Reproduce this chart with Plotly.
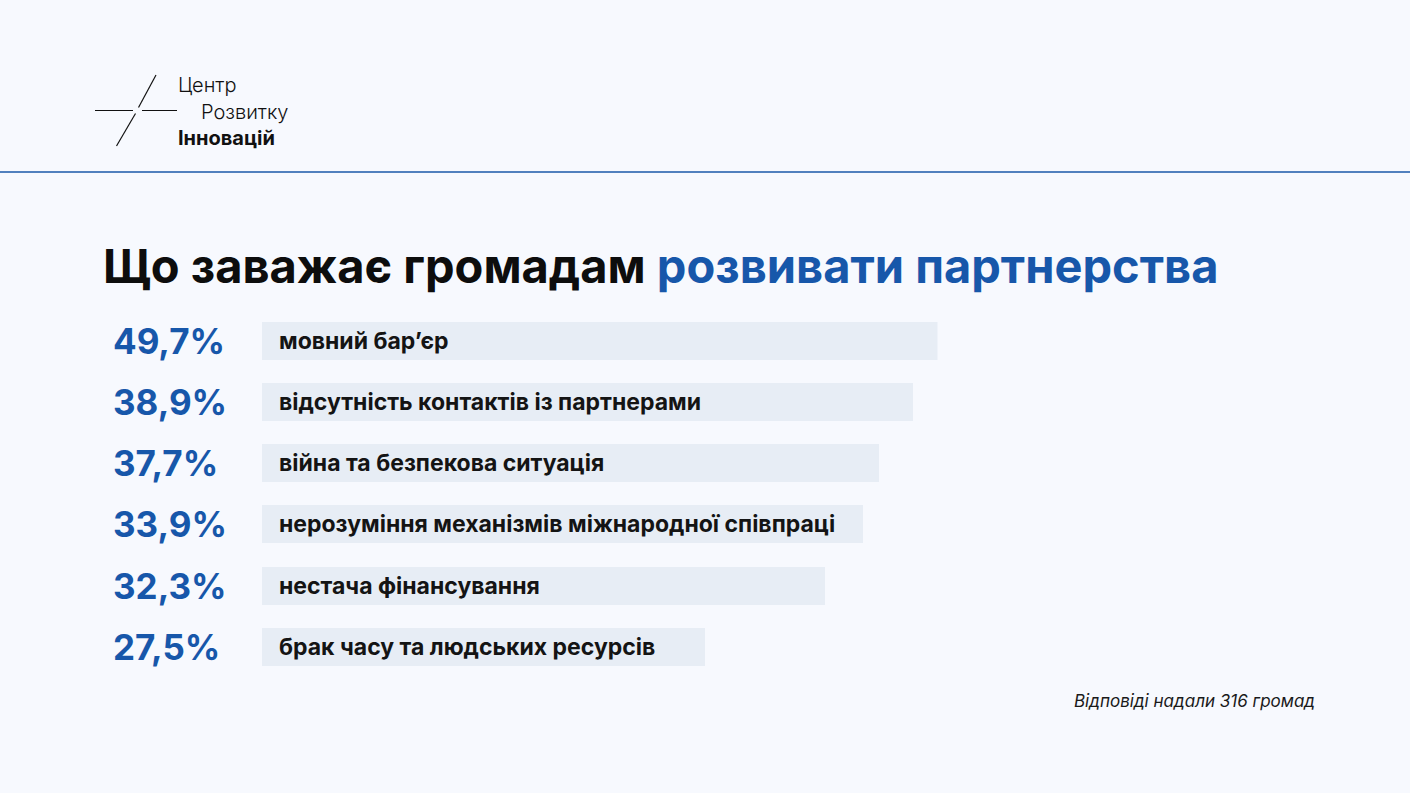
import plotly.graph_objects as go

# ---- data ----
categories = [
    "мовний бар’єр",
    "відсутність контактів із партнерами",
    "війна та безпекова ситуація",
    "нерозуміння механізмів міжнародної співпраці",
    "нестача фінансування",
    "брак часу та людських ресурсів",
]
values = [49.7, 38.9, 37.7, 33.9, 32.3, 27.5]
value_labels = ["49,7%", "38,9%", "37,7%", "33,9%", "32,3%", "27,5%"]
# bar lengths as drawn in the reference (same scale as the first value)
bar_lengths = [49.7, 47.9, 45.4, 44.2, 41.4, 32.6]

title_black = "Що заважає громадам "
title_blue = "розвивати партнерства"
footnote = "Відповіді надали 316 громад"
logo_lines = ["Центр", "Розвитку", "Інновацій"]

W, H = 1410, 793
BG = "#f7f9fe"
BLUE = "#1757aa"
BAR = "#e7edf5"
FONT = "Inter, Roboto, 'Noto Sans', sans-serif"

ypos = list(range(len(categories)))

fig = go.Figure()
fig.add_trace(go.Bar(
    x=bar_lengths, y=ypos, orientation="h",
    marker=dict(color=BAR, line=dict(width=0)),
    width=0.62, hoverinfo="skip", showlegend=False,
))

bar_x0 = 262 / W
bar_x1 = 937.5 / W
y_top = 340.5 / H
y_bot = 647 / H
step = (y_bot - y_top) / (len(categories) - 1)
dom_top = 1 - (y_top - step / 2)
dom_bot = 1 - (y_bot + step / 2)

fig.update_layout(
    width=W, height=H,
    margin=dict(l=0, r=0, t=0, b=0),
    paper_bgcolor=BG, plot_bgcolor=BG,
    bargap=0,
    xaxis=dict(domain=[bar_x0, bar_x1], range=[0, bar_lengths[0]], visible=False, fixedrange=True),
    yaxis=dict(domain=[dom_bot, dom_top], range=[len(categories) - 0.5, -0.5], visible=False, fixedrange=True),
    font=dict(family=FONT),
)

annotations = []
for i, (cat, lab) in enumerate(zip(categories, value_labels)):
    annotations.append(dict(
        x=0, xref="x", xshift=15, y=i, yref="y", text=cat, showarrow=False,
        xanchor="left", yanchor="middle",
        font=dict(family=FONT, size=23, color="#141414", weight=700),
    ))
    annotations.append(dict(
        x=111 / W, xref="paper", y=i, yref="y", text=lab, showarrow=False,
        xanchor="left", yanchor="middle",
        font=dict(family=FONT, size=35, color=BLUE, weight=700),
    ))

# title
annotations.append(dict(
    x=101 / W, xref="paper", y=1 - 265 / H, yref="paper",
    text=f"<span style='color:#0d0d0d'>{title_black}</span><span style='color:{BLUE}'>{title_blue}</span>",
    showarrow=False, xanchor="left", yanchor="middle",
    font=dict(family=FONT, size=47, weight=700),
))

# footnote
annotations.append(dict(
    x=1317 / W, xref="paper", y=1 - 701 / H, yref="paper",
    text=f"<i>{footnote}</i>", showarrow=False, xanchor="right", yanchor="middle",
    font=dict(family=FONT, size=17, color="#1a1a1a"),
))

# logo text
logo_pos = [(176, 85, 300), (199, 112, 300), (176, 138, 700)]
for t, (lx, ly, wgt) in zip(logo_lines, logo_pos):
    annotations.append(dict(
        x=lx / W, xref="paper", y=1 - ly / H, yref="paper", text=t,
        showarrow=False, xanchor="left", yanchor="middle",
        font=dict(family=FONT, size=20, color="#111111", weight=wgt),
    ))

fig.update_layout(annotations=annotations)

def seg(x0, y0, x1, y1, color="#111111", width=1.2):
    return dict(type="line", xref="paper", yref="paper",
                x0=x0 / W, y0=1 - y0 / H, x1=x1 / W, y1=1 - y1 / H,
                line=dict(color=color, width=width))

shapes = [
    seg(0, 172, W, 172, color="#1a57a8", width=1.5),
    seg(95, 110.5, 133, 110.5),
    seg(142, 110.5, 177, 110.5),
    seg(156, 75, 138.5, 107.5),
    seg(135.5, 113.5, 116.5, 146),
]
fig.update_layout(shapes=shapes)

fig.write_html(
    "out.html",
    config={"displayModeBar": False, "staticPlot": True},
    post_script="document.body.style.margin='0';document.body.style.overflow='hidden';document.body.style.background='" + BG + "';",
)
